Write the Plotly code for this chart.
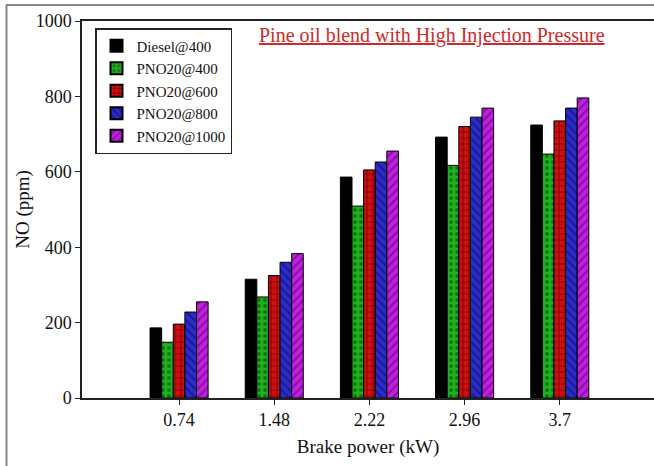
import plotly.graph_objects as go

categories = ["0.74", "1.48", "2.22", "2.96", "3.7"]
series_names = ["Diesel@400", "PNO20@400", "PNO20@600", "PNO20@800", "PNO20@1000"]
diesel_400 = [186, 315, 586, 692, 724]
pno20_400 = [148, 268, 509, 617, 647]
pno20_600 = [196, 325, 605, 720, 735]
pno20_800 = [228, 360, 626, 745, 769]
pno20_1000 = [255, 383, 655, 769, 796]
y_ticks = [0, 200, 400, 600, 800, 1000]

values = [diesel_400, pno20_400, pno20_600, pno20_800, pno20_1000]
fills = ["#000000", "#1fb21f", "#d01010", "#2b2bd0", "#c020e0"]
shapes = ["", ".", "+", "\\", "/"]
fgs = ["#000000", "#0a3a0a", "#400000", "#0a0a40", "#500060"]

L, T, W, H = 82, 21, 572, 377
fig = go.Figure()
for name, vals, fc, sh, fg in zip(series_names, values, fills, shapes, fgs):
    pattern = dict(shape=sh, fgcolor=fg, bgcolor=fc, size=6, solidity=0.35) if sh else None
    fig.add_trace(go.Bar(
        x=categories, y=vals, name=name,
        marker=dict(color=fc, line=dict(color="#000000", width=1), pattern=pattern),
    ))

font_fam = "Liberation Serif, Times New Roman, serif"
fig.update_layout(
    width=654, height=466,
    margin=dict(l=L, r=654 - L - W, t=T, b=466 - T - H),
    paper_bgcolor="white", plot_bgcolor="white",
    barmode="group", bargap=0.39, bargroupgap=0,
    font=dict(family=font_fam, size=18, color="#111"),
    showlegend=True,
    legend=dict(x=(95 - L) / W, y=(398 - 28) / H, xanchor="left", yanchor="top",
                bordercolor="#222", borderwidth=1.5, bgcolor="white",
                font=dict(family=font_fam, size=15, color="#111"),
                tracegroupgap=0, itemsizing="constant", itemwidth=30),
    xaxis=dict(type="category", range=[-1.02, 4.99], showline=True, linecolor="#222",
               linewidth=1.5, mirror=True, ticks="outside", ticklen=5, tickcolor="#222",
               title=dict(text="Brake power (kW)", font=dict(size=19), standoff=10),
               tickfont=dict(size=18), showgrid=False),
    yaxis=dict(range=[0, 1000], tickvals=y_ticks, showline=True, linecolor="#222",
               linewidth=1.5, ticks="outside", ticklen=5, tickcolor="#222",
               title=dict(text="NO (ppm)", font=dict(size=19), standoff=1),
               tickfont=dict(size=18), showgrid=False, zeroline=False),
    annotations=[dict(text="<u>Pine oil blend with High Injection Pressure</u>",
                      xref="paper", yref="paper", x=(432 - L) / W, y=(398 - 35) / H,
                      xanchor="center", yanchor="middle", showarrow=False,
                      font=dict(family=font_fam, size=20, color="#d02828"))],
    shapes=[
        dict(type="line", xref="paper", yref="paper", x0=(6.5 - L) / W, x1=(6.5 - L) / W,
             y0=(398 - 5) / H, y1=(398 - 470) / H, line=dict(color="#888", width=2)),
        dict(type="line", xref="paper", yref="paper", x0=(6 - L) / W, x1=1.01,
             y0=(398 - 5) / H, y1=(398 - 5) / H, line=dict(color="#888", width=2)),
    ],
)
fig.write_html("out.html")
